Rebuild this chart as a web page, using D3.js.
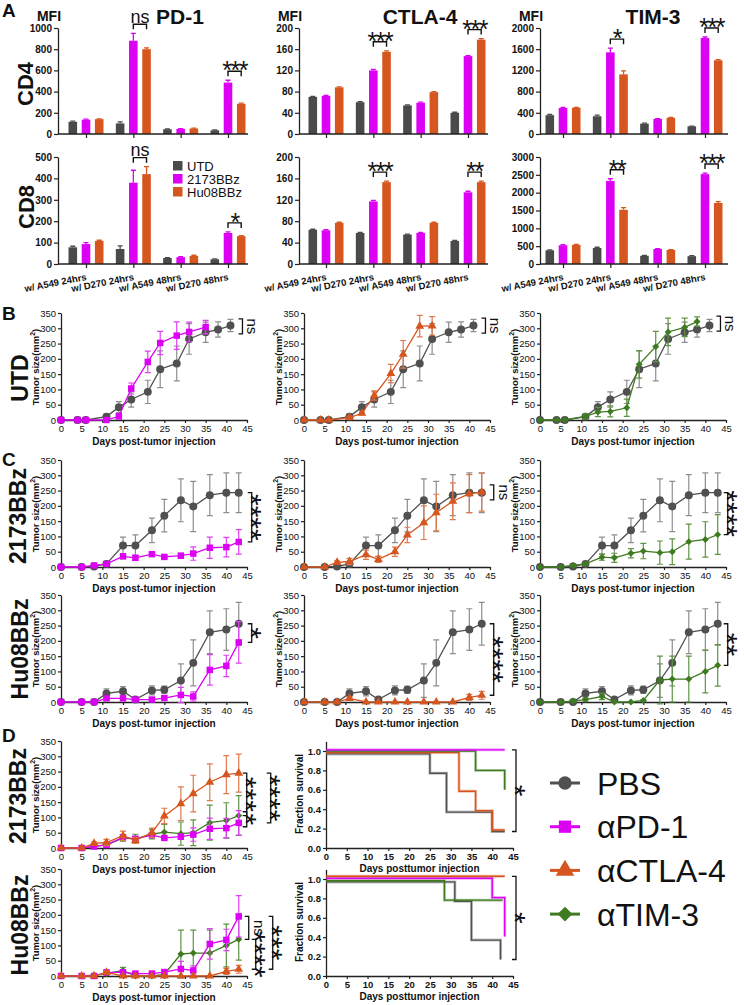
<!DOCTYPE html>
<html><head><meta charset="utf-8">
<script src="https://cdn.jsdelivr.net/npm/d3@7"></script>
<style>
body{margin:0;background:#fff;}
svg{display:block;font-family:"Liberation Sans",Arial,sans-serif;}
</style></head><body>
<svg id="fig" width="744" height="1005"></svg>
<script>
// ---------------- Panel A data ----------------
const groups = ["w/ A549 24hrs","w/ D270 24hrs","w/ A549 48hrs","w/ D270 48hrs"];
const barSeries = ["UTD","2173BBz","Hu08BBz"];
const markers = ["PD-1","CTLA-4","TIM-3"];
// rows = groups, columns = UTD, 2173BBz, Hu08BBz
const pd1CD4      = [[115,135,140],[100,880,800],[45,48,52],[35,485,285]];
const pd1CD4Err   = [[6,6,3],[15,70,12],[3,3,3],[3,22,6]];
const ctla4CD4    = [[70,72,88],[60,120,155],[54,59,79],[40,147,178]];
const ctla4CD4Err = [[1,1,1],[1,2,2],[1,1,1],[1,1,2]];
const tim3CD4     = [[355,490,495],[335,1540,1125],[195,285,305],[145,1810,1390]];
const tim3CD4Err  = [[15,10,8],[20,80,65],[10,5,8],[5,20,15]];
const pd1CD8      = [[78,93,108],[70,380,420],[28,32,38],[22,145,130]];
const pd1CD8Err   = [[5,7,3],[15,58,35],[2,2,3],[2,5,2]];
const ctla4CD8    = [[64,63,77],[58,117,153],[55,58,77],[43,134,153]];
const ctla4CD8Err = [[1,1,1],[1,2,2],[1,1,1],[1,2,2]];
const tim3CD8     = [[385,525,535],[450,2330,1520],[230,420,395],[220,2520,1710]];
const tim3CD8Err  = [[10,15,12],[20,60,60],[8,10,8],[15,30,40]];
const ticksPD1CD4 = [0,200,400,600,800,1000];
const ticksCTLA4  = [0,40,80,120,160,200];
const ticksTIM3CD4= [0,400,800,1200,1600,2000];
const ticksPD1CD8 = [0,100,200,300,400,500];
const ticksTIM3CD8= [0,500,1000,1500,2000,2500,3000];
const sigCD4 = [["ns","***"],["***","***"],["*","***"]];   // D270 24hrs, D270 48hrs
const sigCD8 = [["ns","*"],["***","**"],["**","***"]];

// ---------------- Panels B-D data ----------------
const treatments = ["PBS","αPD-1","αCTLA-4","αTIM-3"];
const daysB = [0,4,6,11,14,17,21,24,28,31,35,38,41];
const utdPBS      = [0,0,0,11,42,67,92,166,185,265,287,296,309];
const utdPBSErr   = [0,0,0,8,18,25,38,60,57,50,33,25,20];
const utdPD1      = [0,0,0,0,12,103,190,252,276,288,304];
const utdPD1Err   = [0,0,0,0,8,18,35,38,45,32,22];
const utdCTLA4    = [0,0,0,8,22,80,152,215,307,308];
const utdCTLA4Err = [0,0,0,5,5,15,30,45,35,30];
const utdTIM3     = [0,0,0,12,26,28,40,182,240,288,303,322];
const utdTIM3Err  = [0,0,0,8,15,18,28,45,50,45,30,15];

const daysC = [0,5,8,11,15,18,22,25,29,32,36,40,43];
const c2173PBS      = [0,0,2,10,70,70,120,168,218,198,235,243,243];
const c2173PBSErr   = [0,0,3,5,28,35,40,53,70,82,67,65,65];
const c2173PD1      = [0,0,5,10,35,30,42,33,37,44,63,65,82];
const c2173PD1Err   = [0,0,3,3,8,8,5,5,8,22,35,32,40];
const c2173CTLA4    = [0,0,15,18,40,25,50,105,145,178,215,240,245];
const c2173CTLA4Err = [0,0,5,10,15,10,15,25,55,60,60,62,62];
const c2173TIM3     = [0,0,5,10,32,30,45,52,47,50,83,90,106];
const c2173TIM3Err  = [0,0,3,3,10,15,15,25,38,42,57,58,65];

const cHu08PBS      = [0,0,0,28,35,8,38,40,70,128,228,237,256];
const cHu08PBSErr   = [0,0,0,15,15,5,15,12,55,75,70,68,70];
const cHu08PD1      = [0,0,0,12,12,8,8,13,23,18,105,118,195];
const cHu08PD1Err   = [0,0,0,5,5,3,5,8,25,15,50,35,68];
const cHu08CTLA4    = [0,0,0,12,0,0,0,0,0,0,0,15,22];
const cHu08CTLA4Err = [0,0,0,5,0,0,0,0,0,0,0,10,13];
const cHu08TIM3     = [0,0,3,8,18,0,0,5,72,75,75,100,120];
const cHu08TIM3Err  = [0,0,2,5,10,0,0,3,78,75,75,70,68];

const sigB    = ["ns","ns","ns"];
const sigC2173 = ["****","ns","****"];
const sigCHu08 = ["*","****","**"];
const sigD2173 = ["***","*","****"];  // CTLA-4 vs TIM-3, TIM-3 vs PD-1, CTLA-4 vs PD-1
const sigDHu08 = ["ns","****","***"]; // PD-1 vs TIM-3, TIM-3 vs CTLA-4, PD-1 vs CTLA-4
const sigSurv  = ["*","*"];

// survival (Kaplan-Meier steps)
const sv2173PBSDay = [0,25,29,40,43],  sv2173PBS = [1,0.8,0.4,0.2,0.2];
const sv2173PD1Day = [0,43],           sv2173PD1 = [1,1];
const sv2173CTLA4Day = [0,32,36,40,43], sv2173CTLA4 = [1,0.6,0.4,0.2,0.2];
const sv2173TIM3Day = [0,36,43],       sv2173TIM3 = [1,0.8,0.6];
const svHu08PBSDay = [0,31,35,42],     svHu08PBS = [1,0.8,0.4,0.2];
const svHu08PD1Day = [0,40,43],        svHu08PD1 = [1,0.8,0.4];
const svHu08CTLA4Day = [0,43],         svHu08CTLA4 = [1,1];
const svHu08TIM3Day = [0,28.5,42.5],   svHu08TIM3 = [1,0.8,0.8];

// ---------------- drawing ----------------
const svg = d3.select("#fig");
const FONT = '"Liberation Sans", Arial, sans-serif';
const NARROW = '"Liberation Sans Narrow","Liberation Sans", Arial, sans-serif';
const COL = {PBS:"#505050", PD1:"#dc00f5", CTLA4:"#d5561f", TIM3:"#3e7b20"};
const ERRCOL = {PBS:"#8e8e8e", PD1:"#e040f5", CTLA4:"#df7a4e", TIM3:"#5e9444"};
const barColor = {"UTD":"#4a4a4a","2173BBz":COL.PD1,"Hu08BBz":COL.CTLA4};

function styleAxis(g, size, weight, family){
  g.select(".domain").attr("stroke","#222").attr("stroke-width",1.3);
  g.selectAll(".tick line").attr("stroke","#222").attr("stroke-width",1.2);
  g.selectAll(".tick text").attr("font-size",size).attr("font-weight",weight)
    .attr("font-family",family).attr("fill","#111");
}
function txt(g, x, y, s, size, weight, anchor){
  return g.append("text").attr("x",x).attr("y",y).text(s)
    .attr("font-size",size).attr("font-weight",weight||"normal")
    .attr("text-anchor",anchor||"start").attr("fill","#111");
}

// ---- Panel A ----
function barChart(p){
  const g = svg.append("g");
  const y = d3.scaleLinear().domain([0,p.max]).range([p.bottom,p.top]);
  const x = d3.scalePoint().domain(groups).range([p.axisX+p.off, p.axisX+p.off+142]);
  const xs = d3.scaleBand().domain(barSeries).range([-17.5,17.5]).paddingInner(0.35);
  const bw = xs.bandwidth();
  groups.forEach((gr,i)=>{
    barSeries.forEach((s,j)=>{
      const v=p.vals[i][j], e=p.err[i][j], bx=x(gr)+xs(s), xm=bx+bw/2;
      g.append("rect").attr("x",bx).attr("y",y(v)).attr("width",bw)
        .attr("height",y(0)-y(v)).attr("fill",barColor[s]);
      g.append("path").attr("d",`M${xm},${y(v)}V${y(v+e)}M${xm-2.5},${y(v+e)}H${xm+2.5}`)
        .attr("stroke",barColor[s]).attr("stroke-width",1.3).attr("fill","none");
    });
  });
  const ya = g.append("g").attr("transform",`translate(${p.axisX},0)`)
    .call(d3.axisLeft(y).tickValues(p.ticks).tickFormat(d3.format("d")).tickSize(4).tickSizeOuter(0).tickPadding(2));
  styleAxis(ya,10,"bold",FONT);
  g.append("line").attr("x1",p.axisX).attr("x2",p.axisX+p.len).attr("y1",p.bottom).attr("y2",p.bottom)
    .attr("stroke","#222").attr("stroke-width",1.3);
  const xa = g.append("g").attr("transform",`translate(0,${p.bottom})`)
    .call(d3.axisBottom(x).tickSize(4).tickFormat(""));
  xa.select(".domain").remove();
  xa.selectAll(".tick line").attr("stroke","#222").attr("stroke-width",1.2);
  // significance
  p.sig.forEach((lab,k)=>{
    const gi = k===0?1:3;
    const x1 = x(groups[gi])+xs("2173BBz")+bw/2, x2 = x(groups[gi])+xs("Hu08BBz")+bw/2;
    const top = Math.min(y(p.vals[gi][1]+p.err[gi][1]), y(p.vals[gi][2]+p.err[gi][2]))-9;
    g.append("path").attr("d",`M${x1},${top+5}V${top}H${x2}V${top+5}`)
      .attr("stroke","#111").attr("stroke-width",1.4).attr("fill","none");
    if(lab==="ns") txt(g,(x1+x2)/2,top-1.5,lab,18,"normal","middle");
    else txt(g,(x1+x2)/2,top+8,lab,25,"normal","middle").attr("letter-spacing",-1.5);
  });
  if(p.labels){
    groups.forEach(gr=>{
      g.append("text").attr("transform",`translate(${x(gr)+1},${p.bottom+16}) rotate(-11)`)
        .attr("text-anchor","end").attr("font-size",9.5).attr("font-weight","bold").attr("fill","#111").text(gr);
    });
  }
}

const colA = [{axisX:58,off:28,len:190},{axisX:299,off:27,len:189},{axisX:540,off:23,len:188}];
const topVals = [[pd1CD4,pd1CD4Err,1000,ticksPD1CD4],[ctla4CD4,ctla4CD4Err,200,ticksCTLA4],[tim3CD4,tim3CD4Err,2000,ticksTIM3CD4]];
const botVals = [[pd1CD8,pd1CD8Err,500,ticksPD1CD8],[ctla4CD8,ctla4CD8Err,200,ticksCTLA4],[tim3CD8,tim3CD8Err,3000,ticksTIM3CD8]];
const titleCX = [180,420,653];
colA.forEach((c,i)=>{
  barChart({axisX:c.axisX,off:c.off,len:c.len,top:28,bottom:134,max:topVals[i][2],ticks:topVals[i][3],
    vals:topVals[i][0],err:topVals[i][1],sig:sigCD4[i],labels:false});
  barChart({axisX:c.axisX,off:c.off,len:c.len,top:157,bottom:264,max:botVals[i][2],ticks:botVals[i][3],
    vals:botVals[i][0],err:botVals[i][1],sig:sigCD8[i],labels:true});
  txt(svg,c.axisX-9,21,"MFI",14,"bold","middle");
  txt(svg,titleCX[i],24,markers[i],21,"bold","middle");
});
// legend A
barSeries.forEach((s,i)=>{
  const ly = 161+13*i;
  svg.append("rect").attr("x",173).attr("y",ly).attr("width",9.5).attr("height",9.5).attr("fill",barColor[s]);
  txt(svg,187,ly+9.5,s,13,"normal","start");
});

// ---- row labels & panel letters ----
function rowLabel(s,cx,cy,size){
  svg.append("text").attr("transform",`translate(${cx+size*0.358},${cy}) rotate(-90)`)
    .attr("text-anchor","middle").attr("font-size",size).attr("font-weight","bold").attr("fill","#111").text(s);
}
rowLabel("CD4",25,84,22); rowLabel("CD8",26,207,22);
rowLabel("UTD",20,378,23); rowLabel("2173BBz",18,516,23); rowLabel("Hu08BBz",20,649,23);
rowLabel("2173BBz",18,796,23); rowLabel("Hu08BBz",20,925,23);
[["A",17],["B",320],["C",466],["D",742]].forEach(d=>txt(svg,2,d[1],d[0],19,"bold","start"));

// ---- vertical significance ----
function vSig(g,bx,yA,yB,label,minSpan){
  let y1=Math.min(yA,yB), y2=Math.max(yA,yB);
  if(y2-y1<minSpan){const c=(y1+y2)/2; y1=c-minSpan/2; y2=c+minSpan/2;}
  g.append("path").attr("d",`M${bx-4},${y1}H${bx}V${y2}H${bx-4}`)
    .attr("fill","none").attr("stroke","#111").attr("stroke-width",1.3);
  const cy=(y1+y2)/2;
  if(label==="ns"){
    g.append("text").attr("transform",`translate(${bx+5},${cy}) rotate(90)`).attr("text-anchor","middle")
      .attr("font-size",15).attr("fill","#111").text(label);
  } else {
    g.append("text").attr("transform",`translate(${bx-11},${cy}) rotate(90)`).attr("text-anchor","middle")
      .attr("font-size",30).attr("fill","#111").text(label);
  }
}

// ---- tumor growth charts ----
const symbolOf = {PBS:d3.symbolCircle, PD1:d3.symbolSquare, CTLA4:d3.symbolTriangle, TIM3:d3.symbolSquare};
const symSize = {PBS:50, PD1:42, CTLA4:34, TIM3:24};
const symRot = {PBS:0, PD1:0, CTLA4:0, TIM3:45};
const colX = [61,304,540];

function tumorChart(p){
  const g = svg.append("g");
  const x = d3.scaleLinear().domain([0,45]).range([p.axisX,p.axisX+186]);
  const y = d3.scaleLinear().domain([0,350]).range([p.y0,p.y0-107]);
  const ya = g.append("g").attr("transform",`translate(${p.axisX},0)`)
    .call(d3.axisLeft(y).tickValues(d3.range(0,351,50)).tickSize(3).tickSizeOuter(0).tickPadding(2));
  styleAxis(ya,9.5,"normal",NARROW);
  const xa = g.append("g").attr("transform",`translate(0,${p.y0})`)
    .call(d3.axisBottom(x).tickValues(d3.range(0,46,5)).tickSize(3).tickSizeOuter(0).tickPadding(2));
  styleAxis(xa,9.5,"normal",NARROW);
  g.append("text").attr("transform",`translate(${p.axisX-22},${p.y0-53}) rotate(-90)`)
    .attr("text-anchor","middle").attr("font-size",9.5).attr("font-weight","bold").attr("fill","#111")
    .call(t=>{t.append("tspan").text("Tumor size(mm");
      t.append("tspan").attr("font-size",7).attr("dy",-4).text("2");
      t.append("tspan").attr("dy",4).text(")");});
  txt(g,p.axisX+93,p.y0+25,"Days post-tumor injection",10,"bold","middle");
  const ends = {};
  p.series.forEach(s=>{
    const pts = s.v.map((v,i)=>({t:s.t[i],v,e:s.e[i]}));
    pts.forEach(d=>{ if(d.e>0){
      const xm=x(d.t);
      g.append("path").attr("d",`M${xm},${y(d.v-d.e)}V${y(d.v+d.e)}M${xm-3},${y(d.v-d.e)}H${xm+3}M${xm-3},${y(d.v+d.e)}H${xm+3}`)
        .attr("stroke",ERRCOL[s.key]).attr("stroke-width",1.2).attr("fill","none");
    }});
    g.append("path").attr("d",d3.line().x(d=>x(d.t)).y(d=>y(Math.max(0,d.v)))(pts))
      .attr("stroke",COL[s.key]).attr("stroke-width",1.3).attr("fill","none");
    g.selectAll(null).data(pts).join("path")
      .attr("d",d3.symbol().type(symbolOf[s.key]).size(symSize[s.key]))
      .attr("transform",d=>`translate(${x(d.t)},${y(d.v)}) rotate(${symRot[s.key]})`)
      .attr("fill",COL[s.key]);
    const last = pts[pts.length-1];
    ends[s.key] = {x:x(last.t), y:y(last.v)};
  });
  const lastX = d3.max(Object.values(ends),d=>d.x);
  (p.sigs||[]).forEach(sg=>vSig(g,lastX+sg.dx,ends[sg.a].y,ends[sg.b].y,sg.label,15));
}

function ser(key,t,v,e){return {key,t:t.slice(0,v.length),v,e};}

// B
tumorChart({axisX:colX[0],y0:420,series:[ser("PBS",daysB,utdPBS,utdPBSErr),ser("PD1",daysB,utdPD1,utdPD1Err)],
  sigs:[{a:"PBS",b:"PD1",label:sigB[0],dx:12}]});
tumorChart({axisX:colX[1],y0:420,series:[ser("PBS",daysB,utdPBS,utdPBSErr),ser("CTLA4",daysB,utdCTLA4,utdCTLA4Err)],
  sigs:[{a:"PBS",b:"CTLA4",label:sigB[1],dx:12}]});
tumorChart({axisX:colX[2],y0:420,series:[ser("PBS",daysB,utdPBS,utdPBSErr),ser("TIM3",daysB,utdTIM3,utdTIM3Err)],
  sigs:[{a:"PBS",b:"TIM3",label:sigB[2],dx:11}]});
// C row 1
tumorChart({axisX:colX[0],y0:567,series:[ser("PBS",daysC,c2173PBS,c2173PBSErr),ser("PD1",daysC,c2173PD1,c2173PD1Err)],
  sigs:[{a:"PBS",b:"PD1",label:sigC2173[0],dx:13}]});
tumorChart({axisX:colX[1],y0:567,series:[ser("PBS",daysC,c2173PBS,c2173PBSErr),ser("CTLA4",daysC,c2173CTLA4,c2173CTLA4Err)],
  sigs:[{a:"PBS",b:"CTLA4",label:sigC2173[1],dx:12}]});
tumorChart({axisX:colX[2],y0:567,series:[ser("PBS",daysC,c2173PBS,c2173PBSErr),ser("TIM3",daysC,c2173TIM3,c2173TIM3Err)],
  sigs:[{a:"PBS",b:"TIM3",label:sigC2173[2],dx:10}]});
// C row 2
tumorChart({axisX:colX[0],y0:702,series:[ser("PBS",daysC,cHu08PBS,cHu08PBSErr),ser("PD1",daysC,cHu08PD1,cHu08PD1Err)],
  sigs:[{a:"PBS",b:"PD1",label:sigCHu08[0],dx:13}]});
tumorChart({axisX:colX[1],y0:702,series:[ser("PBS",daysC,cHu08PBS,cHu08PBSErr),ser("CTLA4",daysC,cHu08CTLA4,cHu08CTLA4Err)],
  sigs:[{a:"PBS",b:"CTLA4",label:sigCHu08[1],dx:12}]});
tumorChart({axisX:colX[2],y0:702,series:[ser("PBS",daysC,cHu08PBS,cHu08PBSErr),ser("TIM3",daysC,cHu08TIM3,cHu08TIM3Err)],
  sigs:[{a:"PBS",b:"TIM3",label:sigCHu08[2],dx:10}]});
// D tumor
tumorChart({axisX:colX[0],y0:848,series:[ser("TIM3",daysC,c2173TIM3,c2173TIM3Err),ser("PD1",daysC,c2173PD1,c2173PD1Err),ser("CTLA4",daysC,c2173CTLA4,c2173CTLA4Err)],
  sigs:[{a:"CTLA4",b:"TIM3",label:sigD2173[0],dx:8},{a:"TIM3",b:"PD1",label:sigD2173[1],dx:8},{a:"CTLA4",b:"PD1",label:sigD2173[2],dx:32}]});
tumorChart({axisX:colX[0],y0:976,series:[ser("TIM3",daysC,cHu08TIM3,cHu08TIM3Err),ser("PD1",daysC,cHu08PD1,cHu08PD1Err),ser("CTLA4",daysC,cHu08CTLA4,cHu08CTLA4Err)],
  sigs:[{a:"PD1",b:"TIM3",label:sigDHu08[0],dx:10},{a:"TIM3",b:"CTLA4",label:sigDHu08[1],dx:17},{a:"PD1",b:"CTLA4",label:sigDHu08[2],dx:34}]});

// ---- survival ----
function survChart(p){
  const g = svg.append("g");
  const x = d3.scaleLinear().domain([0,45]).range([326,513]);
  const y = d3.scaleLinear().domain([0,1.1]).range([p.y0,p.y0-106.7]);
  const ya = g.append("g").attr("transform","translate(326,0)")
    .call(d3.axisLeft(y).tickValues([0,0.2,0.4,0.6,0.8,1.0]).tickFormat(d3.format(".1f")).tickSize(3).tickSizeOuter(0).tickPadding(2));
  styleAxis(ya,9.5,"bold",FONT);
  const xa = g.append("g").attr("transform",`translate(0,${p.y0})`)
    .call(d3.axisBottom(x).tickValues(d3.range(0,46,5)).tickSize(3).tickSizeOuter(0).tickPadding(2));
  styleAxis(xa,9.5,"bold",FONT);
  g.append("text").attr("transform",`translate(303,${p.y0-54}) rotate(-90)`).attr("text-anchor","middle")
    .attr("font-size",10).attr("font-weight","bold").attr("fill","#111").text("Fraction survival");
  txt(g,419.5,p.y0+24,"Days posttumor injection",10,"bold","middle");
  let ys=[];
  p.series.forEach(s=>{
    const pts = s.t.map((t,i)=>[x(t),y(s.v[i]+s.off)]);
    ys = ys.concat(pts.map(d=>d[1]));
    const dpath = d3.line().curve(d3.curveStepAfter)(pts);
    g.append("path").attr("d",dpath).attr("stroke",COL[s.key]).attr("stroke-width",3).attr("opacity",0.35).attr("fill","none");
    g.append("path").attr("d",dpath).attr("stroke",COL[s.key]).attr("stroke-width",1.4).attr("fill","none");
  });
  vSig(g,516,d3.min(ys),d3.max(ys),p.sig,15);
}
survChart({y0:848,sig:sigSurv[0],series:[
  {key:"PBS",t:sv2173PBSDay,v:sv2173PBS,off:-0.03},
  {key:"CTLA4",t:sv2173CTLA4Day,v:sv2173CTLA4,off:-0.015},
  {key:"TIM3",t:sv2173TIM3Day,v:sv2173TIM3,off:0},
  {key:"PD1",t:sv2173PD1Day,v:sv2173PD1,off:0.012}]});
survChart({y0:976,sig:sigSurv[1],series:[
  {key:"PBS",t:svHu08PBSDay,v:svHu08PBS,off:-0.03},
  {key:"TIM3",t:svHu08TIM3Day,v:svHu08TIM3,off:-0.018},
  {key:"PD1",t:svHu08PD1Day,v:svHu08PD1,off:0.008},
  {key:"CTLA4",t:svHu08CTLA4Day,v:svHu08CTLA4,off:0.028}]});

// ---- legend D ----
const tKeys = ["PBS","PD1","CTLA4","TIM3"];
const legSize = {PBS:140, PD1:150, CTLA4:150, TIM3:110};
treatments.forEach((t,i)=>{
  const ly = 783+43.7*i, k=tKeys[i];
  svg.append("line").attr("x1",550).attr("x2",580).attr("y1",ly).attr("y2",ly)
    .attr("stroke",COL[k]).attr("stroke-width",3);
  svg.append("path").attr("d",d3.symbol().type(symbolOf[k]).size(legSize[k]))
    .attr("transform",`translate(565,${ly}) rotate(${symRot[k]})`).attr("fill",COL[k]);
  txt(svg,597,ly+11.5,t,32,"normal","start");
});
</script></body></html>
